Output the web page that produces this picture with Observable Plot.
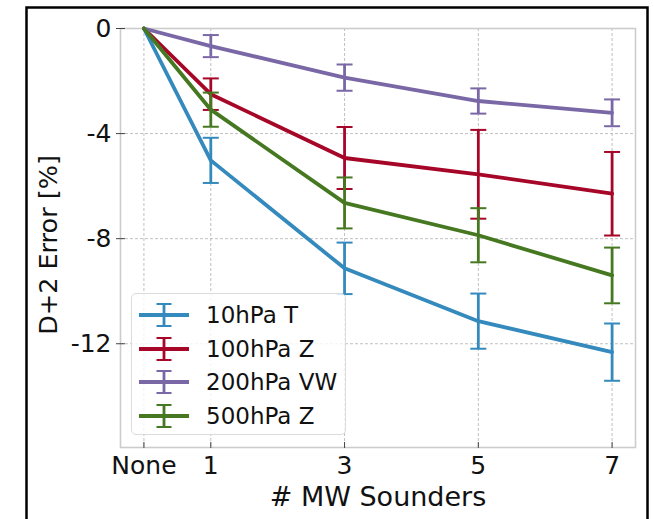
<!DOCTYPE html>
<html>
<head>
<meta charset="utf-8">
<script src="https://cdn.jsdelivr.net/npm/d3@7"></script>
<script src="https://cdn.jsdelivr.net/npm/@observablehq/plot@0.6"></script>
<style>
  html, body { margin: 0; padding: 0; background: #fff; }
  #wrap { position: relative; width: 654px; height: 519px; overflow: hidden; font-family: "DejaVu Sans", sans-serif; }
  #legend {
    position: absolute; left: 131px; top: 293px; width: 215px; height: 142px;
    background: rgba(255,255,255,0.8); border: 1px solid #dcdcdc; border-radius: 5px;
    box-sizing: border-box;
  }
  .row { position: absolute; left: 0; height: 34px; display: flex; align-items: center; }
  .row svg { margin-left: 6px; }
  .row span { margin-left: 16px; font-size: 23px; color: #111; white-space: nowrap; }
</style>
</head>
<body>
<div id="wrap"></div>
<script>
// ---- data ----
const sounders = [0, 1, 3, 5, 7];
const xTickLabels = ["None", "1", "3", "5", "7"];
const yTicks = [0, -4, -8, -12];
const seriesNames = ["10hPa T", "100hPa Z", "200hPa VW", "500hPa Z"];
const seriesColors = ["#348ABD", "#A60628", "#7A68A6", "#467821"];

const t10 = [0, -5.02, -9.13, -11.14, -12.32];
const t10Err = [0, 0.86, 0.98, 1.05, 1.09];
const z100 = [0, -2.50, -4.93, -5.55, -6.29];
const z100Err = [0, 0.60, 1.18, 1.69, 1.59];
const vw200 = [0, -0.67, -1.87, -2.76, -3.21];
const vw200Err = [0, 0.42, 0.50, 0.48, 0.51];
const z500 = [0, -3.09, -6.64, -7.87, -9.40];
const z500Err = [0, 0.65, 0.97, 1.03, 1.06];

const seriesValues = [t10, z100, vw200, z500];
const seriesErrs = [t10Err, z100Err, vw200Err, z500Err];

// ---- build table ----
const rows = [];
seriesNames.forEach((name, si) => {
  sounders.forEach((s, i) => {
    rows.push({series: name, x: s, y: seriesValues[si][i], err: seriesErrs[si][i]});
  });
});

const capSymbol = {
  draw(context, size) {
    const w = Math.sqrt(size / Math.PI);
    context.moveTo(-w, 0);
    context.lineTo(w, 0);
  }
};

const marks = [
  Plot.gridX(sounders, {stroke: "#b0b0b0", strokeOpacity: 1, strokeWidth: 0.8, strokeDasharray: "3,2"}),
  Plot.gridY(yTicks, {stroke: "#b0b0b0", strokeOpacity: 1, strokeWidth: 0.8, strokeDasharray: "3,2"}),
  Plot.frame({stroke: "#cccccc", strokeWidth: 1.6}),
  Plot.frame({stroke: "#000", strokeWidth: 2.5, insetLeft: -94, insetTop: -21, insetRight: -12, insetBottom: -120}),
  Plot.axisX(sounders, {anchor: "bottom", tickSize: 6, dy: -5, text: null, stroke: "#444", label: null}),
  Plot.axisY(yTicks, {anchor: "left", tickSize: 9, dx: 5, text: null, stroke: "#444", label: null}),
  Plot.axisX(sounders, {anchor: "bottom", tickSize: 0, tickPadding: 9, fontSize: 25, tickFormat: (d) => xTickLabels[sounders.indexOf(d)], label: null}),
  Plot.axisY(yTicks, {anchor: "left", tickSize: 0, tickPadding: 9, fontSize: 25, tickFormat: (d) => d === 0 ? "0" : "-" + Math.abs(d), label: null}),
  Plot.text(["# MW Sounders"], {frameAnchor: "bottom", dy: 50, fontSize: 27, lineAnchor: "middle", textAnchor: "middle", fill: "#111"}),
  Plot.text(["D+2 Error [%]"], {frameAnchor: "left", dx: -72, dy: 7, rotate: -90, fontSize: 25.5, lineAnchor: "middle", textAnchor: "middle", fill: "#111"})
];

seriesNames.forEach((name, si) => {
  const d = rows.filter(r => r.series === name);
  const e = d.filter(r => r.err > 0);
  const c = seriesColors[si];
  marks.push(Plot.line(d, {x: "x", y: "y", stroke: c, strokeWidth: 3.8}));
  marks.push(Plot.ruleX(e, {x: "x", y1: r => r.y - r.err, y2: r => r.y + r.err, stroke: c, strokeWidth: 2.8}));
  marks.push(Plot.dot(e, {x: "x", y: r => r.y + r.err, symbol: capSymbol, r: 8, stroke: c, strokeWidth: 2, fill: "none"}));
  marks.push(Plot.dot(e, {x: "x", y: r => r.y - r.err, symbol: capSymbol, r: 8, stroke: c, strokeWidth: 2, fill: "none"}));
});

const chart = Plot.plot({
  width: 654,
  height: 519,
  marginLeft: 120,
  marginRight: 19,
  marginTop: 28,
  marginBottom: 72,
  style: {fontFamily: "DejaVu Sans, sans-serif", color: "#111", background: "#fff", overflow: "visible"},
  x: {domain: [-0.35, 7.35], axis: null},
  y: {domain: [-15.95, 0], axis: null},
  marks
});

const wrap = document.getElementById("wrap");
wrap.appendChild(chart);

// legend
const legend = document.createElement("div");
legend.id = "legend";
seriesNames.forEach((name, si) => {
  const row = document.createElement("div");
  row.className = "row";
  row.style.top = (4 + si * 33.7) + "px";
  const c = seriesColors[si];
  row.innerHTML = `<svg width="52" height="26" viewBox="0 0 52 26">
    <line x1="1" x2="51" y1="13" y2="13" stroke="${c}" stroke-width="3.8"/>
    <line x1="26" x2="26" y1="2" y2="24" stroke="${c}" stroke-width="2.8"/>
    <line x1="18.5" x2="33.5" y1="2" y2="2" stroke="${c}" stroke-width="2"/>
    <line x1="18.5" x2="33.5" y1="24" y2="24" stroke="${c}" stroke-width="2"/>
  </svg><span>${name}</span>`;
  legend.appendChild(row);
});
wrap.appendChild(legend);
</script>
</body>
</html>
